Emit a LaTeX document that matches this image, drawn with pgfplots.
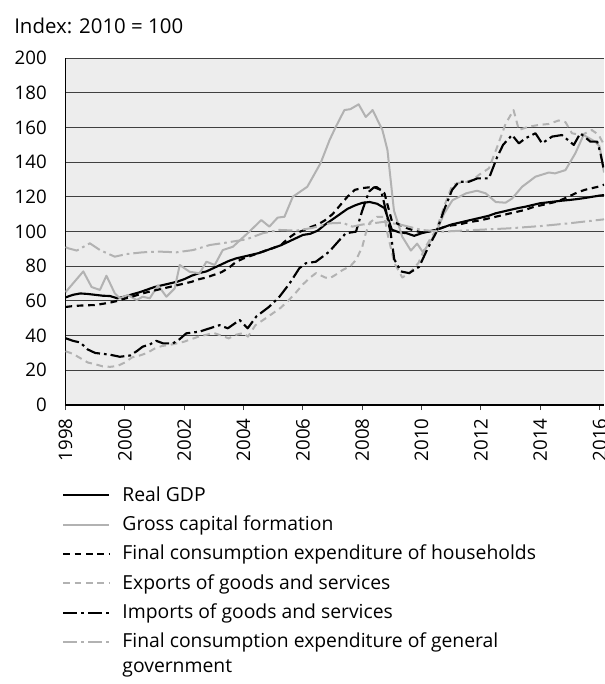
\documentclass[border=0pt]{standalone}
\usepackage{fontspec}
\setmainfont{Open Sans}
\usepackage{pgfplots}
\pgfplotsset{compat=1.18}
\definecolor{lgrey}{RGB}{178,178,178}
\begin{document}
\begin{tikzpicture}[font=\fontsize{14.5pt}{17.4pt}\selectfont]
\begin{axis}[
  scale only axis, width=403.9pt, height=260.25pt,
  xmin=1998, xmax=2016.15, ymin=0, ymax=200,
  axis lines*=left,
  axis line style={black, line width=0.8pt},
  axis background/.style={fill=black!7},
  xtick={1998,2000,...,2016},
  ytick={0,20,...,200},
  tick align=outside,
  major tick length=3.9pt,
  xtick style={black!75, line width=0.8pt},
  ytick style={draw=none},
  ymajorgrids,
  grid style={black!75, line width=0.6pt},
  /pgf/number format/assume math mode=true,
  /pgf/number format/1000 sep={},
  tick label style={font=\fontsize{14pt}{16.8pt}\selectfont},
  xticklabel style={rotate=90, anchor=east, inner sep=0pt, xshift=-6pt},
  yticklabel style={anchor=east, inner sep=0pt, xshift=-10pt},
  legend cell align=left,
  legend style={at={(rel axis cs:0,0)}, anchor=north west, xshift=-2.6pt, yshift=-61pt,
    draw=none, fill=none, inner sep=0pt, row sep=9pt, column sep=9pt,
    nodes={inner sep=0pt, text height=11pt, text depth=2pt}},
  legend image code/.code={\draw[#1] (0pt,0pt) -- (34.5pt,0pt);},
  every axis plot/.append style={line join=round},
]
% Real GDP
\addplot[black, line width=1.6pt] table {
1998.0 62
1998.25 63.5
1998.5 64.3
1998.75 64
1999.0 63.5
1999.25 63
1999.5 62.8
1999.75 61.5
2000.0 62.5
2000.25 63.8
2000.5 65
2000.75 66.5
2001.0 68
2001.25 69
2001.5 70
2001.75 71
2002.0 72.5
2002.25 74.5
2002.5 76
2002.75 77
2003.0 79
2003.25 81
2003.5 83
2003.75 84.5
2004.0 85.5
2004.25 86.5
2004.5 87.5
2004.75 89
2005.0 90.5
2005.25 92
2005.5 94
2005.75 96
2006.0 98
2006.25 98.7
2006.5 100.5
2006.75 104
2007.0 107
2007.25 110
2007.5 113
2007.75 115
2008.0 116.5
2008.25 117
2008.5 116
2008.75 113.5
2009.0 101
2009.25 99.5
2009.5 99
2009.75 97.5
2010.0 99
2010.25 100
2010.5 101
2010.75 102.5
2011.0 104
2011.25 105
2011.5 106
2011.75 107
2012.0 108
2012.25 109
2012.5 110.5
2012.75 111.5
2013.0 112.5
2013.25 113.5
2013.5 114.3
2013.75 115.3
2014.0 116.3
2014.25 116.8
2014.5 117.3
2014.75 117.8
2015.0 118.2
2015.25 118.7
2015.5 119.3
2015.75 120
2016.0 120.7
2016.15 121
};
\addlegendentry{Real GDP}
% Gross capital formation
\addplot[lgrey, line width=1.5pt] table {
1998.0 65
1998.1 67
1998.6 77
1998.88 68
1999.16 66.3
1999.38 74.5
1999.66 64.4
1999.83 61.5
2000.1 63.4
2000.4 60.5
2000.6 62.4
2000.84 61.5
2001.12 69
2001.4 62.4
2001.68 67.2
2001.85 80.7
2002.18 76.8
2002.52 75.9
2002.75 82.6
2003.03 80.7
2003.3 89.3
2003.64 91.2
2004.2 100
2004.6 106.6
2004.87 102.8
2005.15 108
2005.38 108.5
2005.66 120
2006.15 125.8
2006.6 139.5
2006.9 152.7
2007.1 160
2007.4 170
2007.6 170.5
2007.88 173.3
2008.12 166
2008.35 170
2008.68 158.5
2008.85 147
2009.07 112
2009.35 97
2009.64 89
2009.85 93
2010.05 88
2010.48 99
2010.75 110
2011.04 118
2011.5 122
2011.87 123.5
2012.16 122
2012.5 117
2012.83 116.6
2013.05 119
2013.39 125.8
2013.84 131.6
2014.29 134
2014.5 133.5
2014.85 135.4
2015.18 145
2015.46 155.6
2015.85 151.8
2016.0 149
2016.15 134
};
\addlegendentry{Gross capital formation}
% Households
\addplot[black, line width=1.6pt, dash pattern=on 5pt off 3.5pt] table {
1998.0 56.5
1998.25 57
1998.5 57.3
1998.75 57.5
1999.0 57.6
1999.25 58.3
1999.5 59
1999.75 60
2000.0 61.3
2000.25 62.5
2000.5 63.8
2000.75 65
2001.0 66
2001.25 67
2001.5 68
2001.75 69
2002.0 70
2002.25 71
2002.5 72.5
2002.75 73.5
2003.0 75
2003.25 76.5
2003.5 79
2003.75 82.5
2004.0 84.5
2004.25 86
2004.5 87.5
2004.75 89
2005.0 90.5
2005.25 92
2005.5 96
2005.75 99
2006.0 100.5
2006.25 102.5
2006.5 104
2006.75 106.5
2007.0 110
2007.25 115
2007.5 120
2007.75 124
2008.0 125
2008.25 125.5
2008.5 125.5
2008.75 122
2009.0 106
2009.25 104
2009.5 102
2009.75 100.5
2010.0 99.5
2010.25 100
2010.5 101
2010.75 102.5
2011.0 103.5
2011.25 104
2011.5 105
2011.75 105.8
2012.0 106.5
2012.25 107.5
2012.5 108.5
2012.75 109.5
2013.0 110.5
2013.25 111.5
2013.5 112.5
2013.75 114
2014.0 115
2014.25 116
2014.5 117
2014.75 118.5
2015.0 120.5
2015.25 122.5
2015.5 124
2015.75 125
2016.0 126
2016.15 127
};
\addlegendentry{Final consumption expenditure of households}
% Exports
\addplot[lgrey, line width=1.5pt, dash pattern=on 5pt off 3.5pt] table {
1998.0 31
1998.25 29.5
1998.5 27
1998.75 24.5
1999.0 23.5
1999.25 22.3
1999.5 22
1999.75 22.5
2000.0 24.5
2000.25 27.5
2000.5 28.5
2000.75 30
2001.0 32.5
2001.25 34
2001.5 34.6
2001.75 35.5
2002.0 36.5
2002.25 38
2002.5 39.5
2002.75 40.5
2003.0 41.5
2003.25 40
2003.5 38.4
2003.75 40.5
2004.0 41.5
2004.15 39.4
2004.4 46
2004.75 50
2005.0 53
2005.25 56
2005.5 60
2005.75 64.5
2006.0 69.5
2006.25 73.5
2006.44 76
2006.75 73.5
2006.9 73
2007.1 75
2007.34 77.8
2007.6 80
2007.79 83.6
2008.0 91
2008.12 99
2008.25 105
2008.5 108.5
2008.75 108.5
2008.85 99
2009.08 82
2009.35 73.5
2009.6 76
2009.9 82
2010.1 90
2010.3 96
2010.5 101
2010.75 114
2011.04 126.8
2011.25 128
2011.54 128.7
2011.75 130
2011.93 132.6
2012.27 136.4
2012.55 148.8
2012.83 162
2013.1 170
2013.28 158.5
2013.6 160.4
2013.95 161.4
2014.3 162
2014.62 164
2014.85 163
2015.07 156.6
2015.4 155.6
2015.74 158.5
2015.97 155.6
2016.15 150
};
\addlegendentry{Exports of goods and services}
% Imports
\addplot[black, line width=1.6pt, dash pattern=on 10.5pt off 3pt on 2pt off 3pt] table {
1998.0 38.5
1998.25 37
1998.5 36
1998.75 32
1999.0 30
1999.25 29.5
1999.5 29
1999.83 27.8
2000.17 28.5
2000.4 31
2000.6 33.6
2000.85 35
2001.06 37
2001.29 35.5
2001.62 35.5
2001.85 38
2002.07 41.3
2002.52 42.3
2002.86 44.2
2003.19 46
2003.47 44.2
2003.87 49
2004.14 44.2
2004.43 51
2004.87 56.7
2005.21 62.4
2005.55 70
2005.88 78.8
2006.1 81.7
2006.44 82.6
2006.89 88.4
2007.23 95
2007.45 99
2007.79 99.9
2008.0 112
2008.23 123
2008.4 125.5
2008.63 124
2008.8 112
2008.96 99
2009.08 84
2009.3 77
2009.58 76
2009.92 79.7
2010.2 90
2010.48 99
2010.75 112
2011.03 124
2011.26 128.7
2011.6 128.7
2011.88 130.6
2012.27 130.6
2012.55 143
2012.75 150
2013.05 155.6
2013.28 150.8
2013.5 153.7
2013.84 156.6
2014.06 150.8
2014.4 154.7
2014.73 155.6
2015.13 149.9
2015.35 156.6
2015.69 151.8
2015.92 151.8
2016.03 145
2016.15 135
};
\addlegendentry{Imports of goods and services}
% Government
\addplot[lgrey, line width=1.5pt, dash pattern=on 10.5pt off 3pt on 2pt off 3pt] table {
1998.0 91
1998.1 90.3
1998.38 89
1998.82 93.2
1999.16 89.3
1999.66 85.5
2000.06 87
2000.6 88
2001.18 88.4
2001.74 88
2002.3 89.3
2002.86 92.2
2003.42 93.6
2004.1 95.5
2004.65 99
2005.2 100.9
2005.77 100.5
2006.3 102
2006.9 104.7
2007.34 105
2007.67 102.8
2008.0 104
2008.35 104.7
2008.74 105.6
2009.35 103.7
2010.0 100.9
2010.7 99.9
2011.82 100.9
2012.94 101.8
2014.06 103.2
2014.96 104.7
2016.15 107
};
\addlegendentry{\begin{tabular}[t]{@{}l@{}}Final consumption expenditure of general\\[1pt]government\end{tabular}}
\end{axis}
\node[anchor=base west, inner sep=0pt, font=\fontsize{15.3pt}{18pt}\selectfont] at (-38.6pt,278.25pt) {Index: 2010 = 100};
\pgfresetboundingbox
\useasboundingbox (-49.125pt,-209.25pt) rectangle (403.875pt,303.75pt);
\end{tikzpicture}
\end{document}
